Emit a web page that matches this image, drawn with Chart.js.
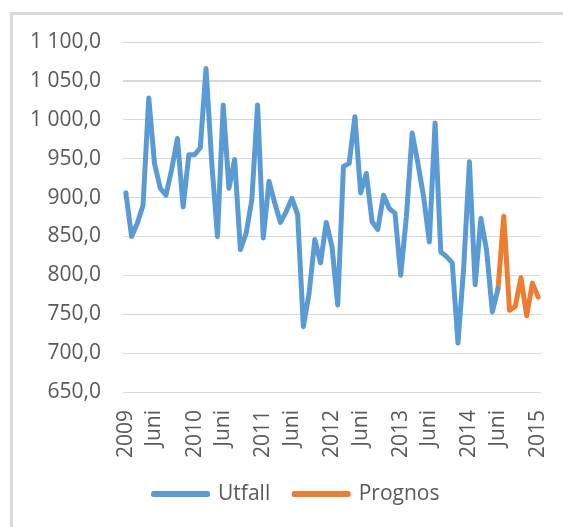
<!DOCTYPE html>
<html>
<head>
<meta charset="utf-8">
<script src="https://cdn.jsdelivr.net/npm/chart.js@4.4.1/dist/chart.umd.min.js"></script>
<style>
  html, body { margin: 0; padding: 0; background: #fff; overflow: hidden; }
  #frame { position: absolute; left: 10px; top: 12px; width: 600px; height: 600px; border: 3px solid #d9d9d9; }
  #wrap { position: absolute; left: 0; top: 0; width: 563px; height: 527px; }
</style>
</head>
<body>
<div id="frame"></div>
<div id="wrap"><canvas id="chart-canvas" width="563" height="527"></canvas></div>
<script>
// monthly values, Jan 2009 .. Jan 2015
const years = [2009, 2010, 2011, 2012, 2013, 2014, 2015];
const midLabel = 'Juni';

const utfall = [
  906, 850, 867, 890, 1028, 944, 912, 903, 936, 976, 888, 955,
  955, 964, 1066, 945, 850, 1019, 912, 949, 833, 854, 897, 1019,
  848, 921, 893, 868, 882, 899, 878, 734, 777, 846, 816, 868,
  837, 762, 940, 944, 1004, 906, 931, 869, 859, 903, 886, 880,
  800, 876, 983, 944, 901, 843, 996, 830, 824, 816, 713, 810,
  946, 788, 873, 832, 753, 783
];
const prognos = [783, 876, 755, 760, 797, 748, 790, 772];
const prognosStart = 65;

const months = [];
years.forEach(y => {
  for (let m = 1; m <= 12; m++) {
    if (y === 2015 && m > 1) break;
    months.push(y + '-' + String(m).padStart(2, '0'));
  }
});

const utfallData = months.map((_, i) => i < utfall.length ? utfall[i] : null);
const prognosData = months.map((_, i) => {
  const k = i - prognosStart;
  return k >= 0 && k < prognos.length ? prognos[k] : null;
});

function tickLabel(month) {
  const [y, m] = month.split('-');
  if (m === '01') return y;
  if (m === '06') return midLabel;
  return '';
}

function fmt(v) {
  const s = v.toFixed(1).replace('.', ',');
  const [int, dec] = s.split(',');
  return int.replace(/\B(?=(\d{3})+(?!\d))/g, '\u00a0') + ',' + dec;
}

const font = { family: 'Open Sans', size: 21 };
const textColor = '#595959';

// nudge the bottom legend right so it sits under the plot like the original
const legendShift = {
  id: 'legendShift',
  afterLayout(chart) {
    chart.legend.left += 26;
    chart.legend.right += 26;
  }
};

const ctx = document.getElementById('chart-canvas').getContext('2d');
new Chart(ctx, {
  type: 'line',
  data: {
    labels: months,
    datasets: [{
      label: 'Utfall',
      data: utfallData,
      borderColor: '#5b9bd5',
      backgroundColor: '#5b9bd5',
      borderWidth: 5,
      pointRadius: 0,
      tension: 0,
      borderJoinStyle: 'round',
      borderCapStyle: 'round'
    }, {
      label: 'Prognos',
      data: prognosData,
      borderColor: '#ed7d31',
      backgroundColor: '#ed7d31',
      borderWidth: 5,
      pointRadius: 0,
      tension: 0,
      borderJoinStyle: 'round',
      borderCapStyle: 'round'
    }]
  },
  plugins: [legendShift],
  options: {
    responsive: false,
    animation: false,
    events: [],
    layout: { padding: { left: 0, right: 22, top: 42, bottom: 12.5 } },
    scales: {
      x: {
        offset: true,
        grid: { display: false, drawTicks: false },
        border: { display: false },
        ticks: {
          autoSkip: false,
          minRotation: 90,
          maxRotation: 90,
          padding: 18,
          color: textColor,
          font,
          callback: function (value) { return tickLabel(this.getLabelForValue(value)); }
        },
        afterFit: scale => {
          scale.height = 67.5;
          scale.paddingLeft = 0;
          scale.paddingRight = 0;
        }
      },
      y: {
        min: 650,
        max: 1100,
        grid: {
          color: '#d9d9d9',
          drawTicks: false,
          lineWidth: c => (c.tick && c.tick.value === 1050 ? 2 : 1)
        },
        border: { display: false },
        ticks: {
          stepSize: 50,
          padding: 22,
          color: textColor,
          font,
          callback: v => fmt(v)
        },
        afterFit: scale => { scale.width = 123; }
      }
    },
    plugins: {
      legend: {
        position: 'bottom',
        labels: {
          boxWidth: 54,
          boxHeight: 1,
          padding: 24,
          color: textColor,
          font
        }
      },
      tooltip: { enabled: false }
    }
  }
});
</script>
</body>
</html>
